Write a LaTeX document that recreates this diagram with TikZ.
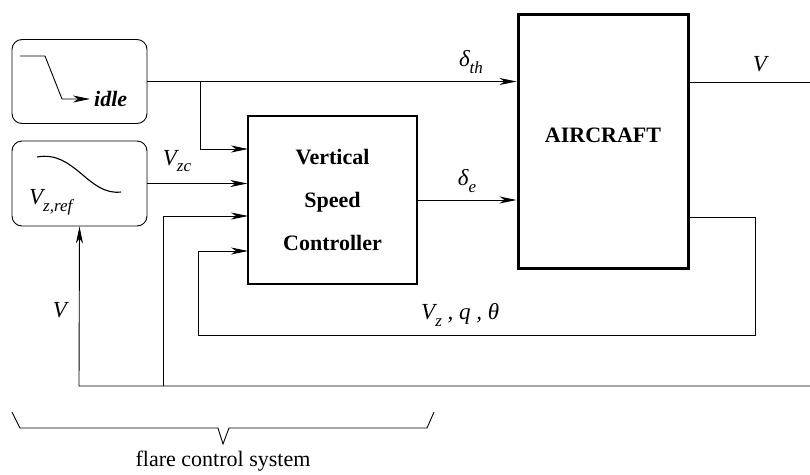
\documentclass[tikz,border=0pt]{standalone}
\usepackage{fontspec}
\setmainfont{Liberation Serif}
\usetikzlibrary{arrows.meta,calc}
\newcommand{\sbx}[1]{\raisebox{-0.3em}{\fontsize{17}{17}\selectfont\itshape #1}}
\begin{document}
\begin{tikzpicture}[x=1pt,y=1pt,
  lbl/.style={font=\fontsize{23}{26}\selectfont\itshape, inner sep=0pt},
  rbox/.style={draw, rounded corners=10pt, line width=0.9pt, minimum width=135pt, inner sep=0pt},
  blk/.style={draw, line width=1.3pt, inner sep=0pt},
  conn/.style={line width=0.9pt},
  arr/.style={conn, -{Stealth[length=17pt,width=7pt,inset=5pt]}}]
\useasboundingbox (0,0) rectangle (810,-474);
% blocks
\node[rbox, minimum height=84pt] (idle) at (79.5,-81.5) {};
\node[rbox, minimum height=85pt] (vzref) at (79.5,-183.5) {};
\node[blk, minimum width=169pt, minimum height=168pt, align=center,
      font=\fontsize{22}{43}\selectfont\bfseries] (vsc) at (332.5,-200) {Vertical\\Speed\\Controller};
\node[blk, line width=3pt, minimum width=170pt, minimum height=254pt] (ac) at (603,-141) {};
\node[font=\fontsize{22}{26}\selectfont\bfseries, inner sep=0pt] (actext) at (603,-135) {AIRCRAFT};
% idle box contents
\coordinate (ia) at (20,-56);
\coordinate (ib) at (45,-56);
\coordinate (ic) at (62,-99);
\coordinate (id) at (90,-99);
\draw[arr] (ia) -- (ib) -- (ic) -- (id);
\node[font=\fontsize{22}{26}\selectfont\bfseries\itshape, inner sep=0pt, anchor=west] (idletxt) at (94,-99) {idle};
% vzref contents
\coordinate (sa) at (37,-157);
\coordinate (sb) at (121,-192);
\draw[line width=1.1pt] (sa) .. controls (75,-150) and (88,-196) .. (sb);
\node[lbl, anchor=west] (vzreftxt) at (29,-202) {V\sbx{z,ref}};
% coordinates
\coordinate (br) at (200,-82);
\coordinate (in1) at (248,-149);
\coordinate (in3) at (248,-216);
\coordinate (in4) at (248,-251);
\coordinate (j3) at (163,-386);
\coordinate (fa) at (688,-217);
\coordinate (fb) at (755,-217);
\coordinate (fc) at (755,-335);
\coordinate (fd) at (198,-335);
\coordinate (outV) at (810,-82);
\coordinate (botR) at (810,-386);
\coordinate (botL) at (79,-386);
% connectors
\draw[arr] (idle.east) -- (idle.east -| ac.west);
\draw[arr] (br) |- (in1);
\draw[arr] (vzref.east) -- (vzref.east -| vsc.west);
\draw[arr] (j3) |- (in3);
\draw[arr] (fa) -- (fb) -- (fc) -- (fd) |- (in4);
\draw[arr] (vsc.east) -- (vsc.east -| ac.west);
\draw[conn] (ac.east |- outV) -- (outV);
\draw[arr] (botR) -- (botL) -- (vzref.south);
% labels
\node[lbl] (dth) at (471,-62) {δ\sbx{th}};
\node[lbl] (Vout) at (760,-64) {V};
\node[lbl] (de) at (467,-181) {δ\sbx{e}};
\node[lbl] (vzc) at (177,-161) {V\sbx{zc}};
\node[lbl] (vleft) at (60,-310) {V};
\node[lbl, anchor=west] (fbl) at (421,-315) {V\sbx{z}\ ,\ q\ ,\ θ};
% brace
\coordinate (b1) at (12,-412);
\coordinate (b2) at (20,-428);
\coordinate (b3) at (218,-428);
\coordinate (b4) at (223,-444);
\coordinate (b5) at (229,-428);
\coordinate (b6) at (427,-428);
\coordinate (b7) at (434,-412);
\draw[line width=0.9pt] (b1) -- (b2) -- (b3) -- (b4) -- (b5) -- (b6) -- (b7);
\node[font=\fontsize{22}{26}\selectfont, inner sep=0pt] (fcs) at (223,-461) {flare control system};
\end{tikzpicture}
\end{document}
